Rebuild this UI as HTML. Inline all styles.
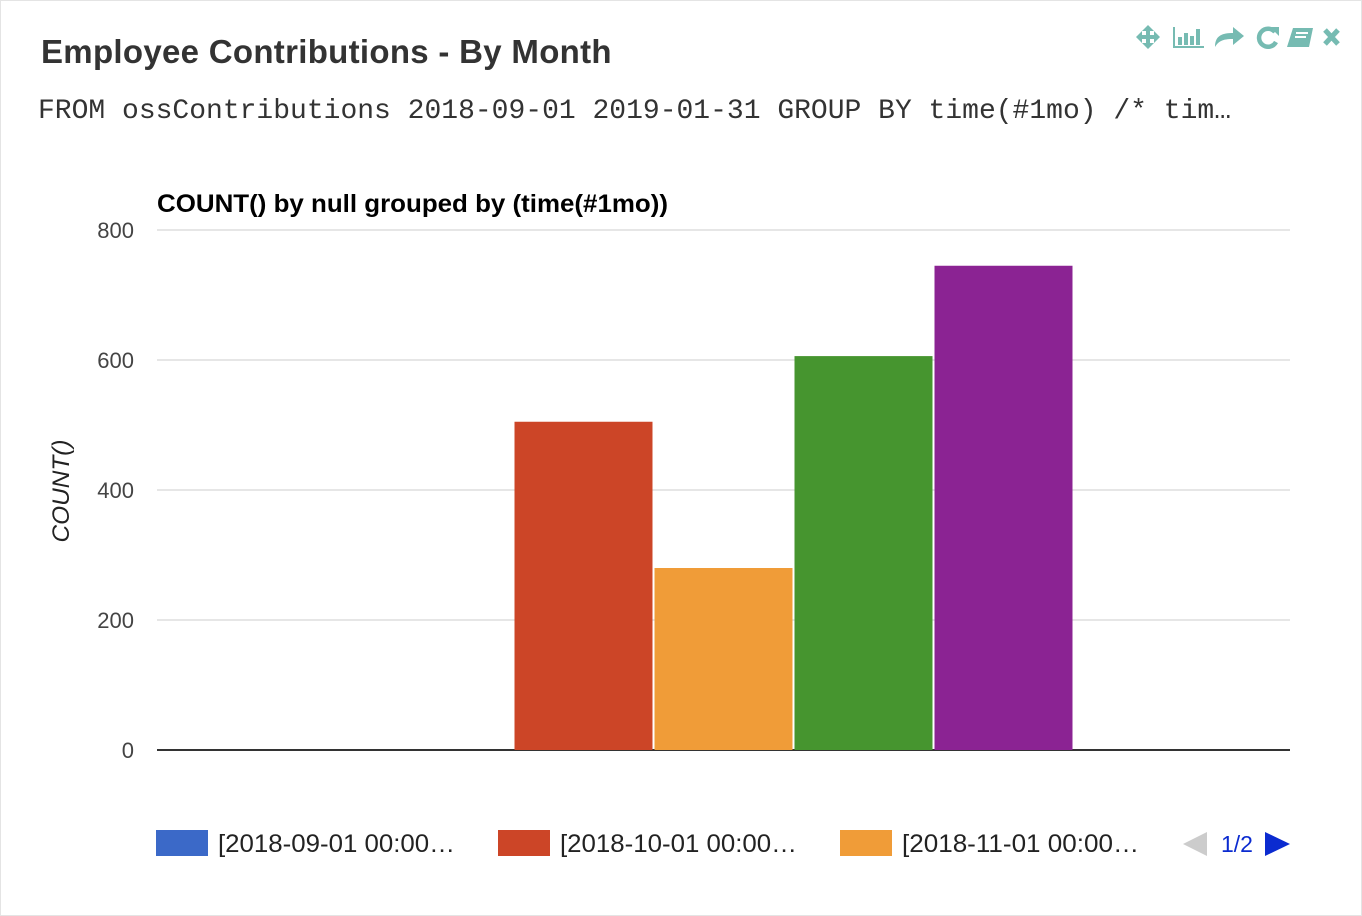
<!DOCTYPE html>
<html><head><meta charset="utf-8"><style>
body{margin:0;width:1362px;height:916px;background:#fff;overflow:hidden;font-family:"Liberation Sans",sans-serif;}
#panel{position:absolute;left:0;top:0;width:1360px;height:914px;border:1px solid #e4e4e4;background:#fff;}
#title{position:absolute;left:40px;top:32px;font-size:33px;font-weight:bold;color:#333;letter-spacing:0.3px;white-space:nowrap}
#query{position:absolute;left:37px;top:95px;font-family:"Liberation Mono",monospace;font-size:28px;color:#333;white-space:nowrap}
#icons{position:absolute;left:1132px;top:22px;}
</style></head><body>
<div id="panel">
<div id="title">Employee Contributions - By Month</div>
<div id="query">FROM ossContributions 2018-09-01 2019-01-31 GROUP BY time(#1mo) /* tim…</div>
<svg id="icons" width="215" height="30" viewBox="0 0 215 30">
<g fill="#76bbb2" stroke="#76bbb2">
<g><path d="M15 2 L21 8 H17 V12 H21 V8 L27 14 L21 20 V16 H17 V20 H21 L15 26 L9 20 H13 V16 H9 V20 L3 14 L9 8 V12 H13 V8 H9 Z" stroke="none"/></g>
<g stroke="none"><rect x="40" y="4" width="2" height="21"/><rect x="40" y="23" width="31" height="2"/><rect x="45" y="14" width="4" height="8"/><rect x="51" y="10" width="4" height="12"/><rect x="57" y="13" width="4" height="9"/><rect x="63" y="6" width="4" height="16"/></g>
<g stroke="none"><path d="M82 24 C82 12 90 10 100 10 V4 L111 13 L100 22 V16 C92 16 86 17 82 24 Z"/></g>
<g><path d="M142 9 A9 9 0 1 0 143 19" fill="none" stroke-width="4.5"/><path d="M137 4 L146 4 L146 13 Z" stroke="none"/></g>
<g stroke="none"><path d="M160 5 H180 L176 24 H154 Z"/><rect x="163" y="9" width="12" height="2" fill="#fff"/><rect x="162" y="13" width="11" height="2" fill="#fff"/></g>
<g stroke-width="5"><path d="M192 7 L205 21 M205 7 L192 21"/></g>
</g></svg>
<svg id="chart" width="1362" height="916" style="position:absolute;left:-1px;top:-1px"></svg>
</div>
<script>
const categories=["2018-09..2019-01"];
const seriesNames=["[2018-09-01 00:00…","[2018-10-01 00:00…","[2018-11-01 00:00…","[2018-12-01 00:00…","[2019-01-01 00:00…"];
const seriesValues=[0,505,280,606,745];
const seriesColors=["#3b69c8","#cc4527","#f09c38","#46952f","#8b2393"];
const yTicks=[0,200,400,600,800];
const NS="http://www.w3.org/2000/svg";
const svg=document.getElementById("chart");
const L=157,R=1290,T=230,B=750,yMax=800;
const y=v=>B-(v/yMax)*(B-T);
function el(t,a,txt){const e=document.createElementNS(NS,t);for(const k in a)e.setAttribute(k,a[k]);if(txt!==undefined)e.textContent=txt;svg.appendChild(e);return e;}
let e=el("text",{x:157,y:212,"font-size":"25","font-weight":"bold",fill:"#000",textLength:"511",lengthAdjust:"spacingAndGlyphs"},"COUNT() by null grouped by (time(#1mo))");


yTicks.forEach(t=>{
 const g=el("line",{x1:L,x2:R,y1:y(t),y2:y(t),stroke:t===0?"#333":"#ccc","stroke-width":t===0?2:1});
 
 
 const lb=el("text",{x:134,y:y(t)+8,"text-anchor":"end","font-size":"22",fill:"#444"},t);
 
 
});
e=el("text",{x:0,y:0,transform:"translate(69,491) rotate(-90)","text-anchor":"middle","font-size":"24","font-style":"italic",fill:"#222",textLength:"103",lengthAdjust:"spacingAndGlyphs"},"COUNT()");


const n=seriesValues.length,bw=140,gw=n*bw,cx=(L+R)/2,x0=cx-gw/2;
seriesValues.forEach((v,i)=>{
 const r=el("rect",{x:x0+i*bw+1,y:y(v),width:bw-2,height:B-y(v),fill:seriesColors[i]});
 
 
});
[0,1,2].forEach(i=>{
 const lx=156+i*342;
 const s=el("rect",{x:lx,y:830,width:52,height:26,fill:seriesColors[i]});
 
 
 const t=el("text",{x:lx+62,y:852,"font-size":"25",fill:"#222",textLength:"237",lengthAdjust:"spacingAndGlyphs"},seriesNames[i]);
 
 
});
e=el("path",{d:"M1183 844 L1207 832 L1207 856 Z",fill:"#ccc"});


e=el("text",{x:1237,y:852,"text-anchor":"middle","font-size":"23",fill:"#0b2bd0"},"1/2");


e=el("path",{d:"M1265 832 L1290 844 L1265 856 Z",fill:"#0b2bd0"});


</script>
</body></html>
